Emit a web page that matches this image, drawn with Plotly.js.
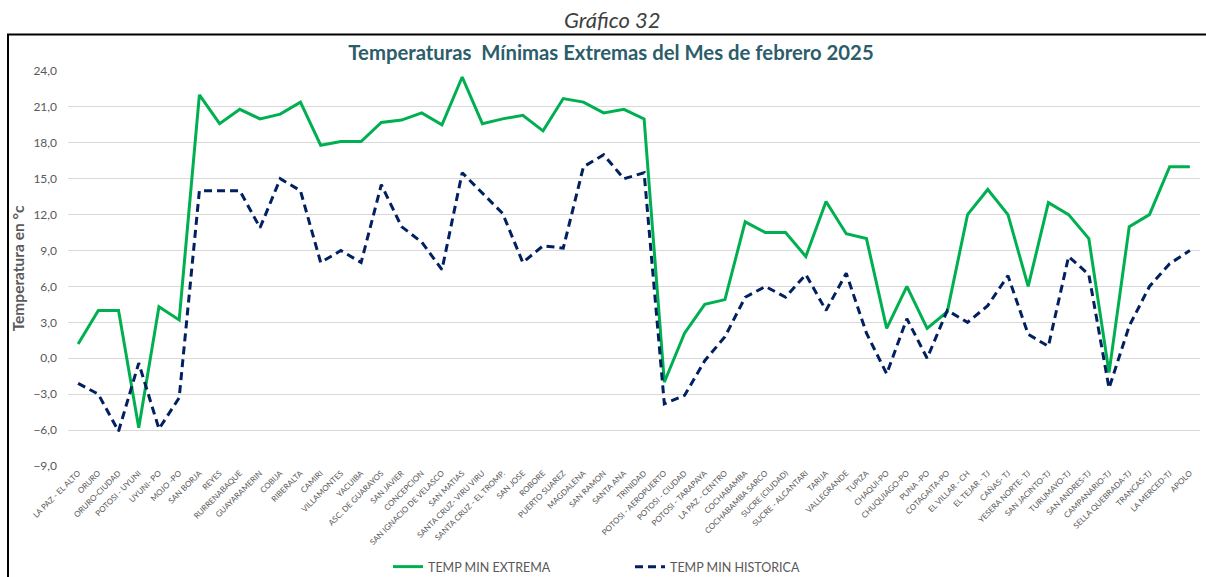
<!DOCTYPE html>
<html>
<head>
<meta charset="utf-8">
<script src="https://cdn.plot.ly/plotly-3.0.1.min.js"></script>
<style>html,body{margin:0;padding:0;background:#fff;}#chart{width:1206px;height:577px;}</style>
</head>
<body>
<div id="chart"></div>
<script>
const stations = [
  "LA PAZ - EL ALTO","ORURO","ORURO-CIUDAD","POTOSI - UYUNI","UYUNI- PO","MOJO -PO","SAN BORJA","REYES",
  "RURRENABAQUE","GUAYARAMERIN","COBIJA","RIBERALTA","CAMIRI","VILLAMONTES","YACUIBA","ASC. DE GUARAYOS",
  "SAN JAVIER","CONCEPCION","SAN IGNACIO DE VELASCO","SAN MATIAS","SANTA CRUZ- VIRU VIRU","SANTA CRUZ - EL TROMP.",
  "SAN JOSE","ROBORE","PUERTO SUAREZ","MAGDALENA","SAN RAMON","SANTA ANA","TRINIDAD","POTOSI - AEROPUERTO",
  "POTOSI - CIUDAD","POTOSI - TARAPAYA","LA PAZ - CENTRO","COCHABAMBA","COCHABAMBA SARCO","SUCRE (CIUDAD)",
  "SUCRE - ALCANTARI","TARIJA","VALLEGRANDE","TUPIZA","CHAQUI-PO","CHUQUIAGO-PO","PUNA -PO","COTAGAITA-PO",
  "EL VILLAR - CH","EL TEJAR - TJ","CAÑAS- TJ","YESERA NORTE- TJ","SAN JACINTO-TJ","TURUMAYO-TJ","SAN ANDRES-TJ",
  "CAMPANARIO-TJ","SELLA QUEBRADA-TJ","TRANCAS-TJ","LA MERCED-TJ","APOLO"
];
const tempMinExtrema = [
  1.2, 4.0, 4.0, -5.8, 4.3, 3.2, 22.0, 19.6,
  20.8, 20.0, 20.4, 21.4, 17.8, 18.1, 18.1, 19.7,
  19.9, 20.5, 19.5, 23.5, 19.6, 20.0,
  20.3, 19.0, 21.7, 21.4, 20.5, 20.8, 20.0, -2.0,
  2.1, 4.5, 4.9, 11.4, 10.5, 10.5,
  8.5, 13.1, 10.4, 10.0, 2.5, 6.0, 2.5, 3.9,
  12.0, 14.1, 12.0, 6.0, 13.0, 12.0, 10.0,
  -1.2, 11.0, 12.0, 16.0, 16.0
];
const tempMinHistorica = [
  -2.1, -3.0, -6.1, -0.4, -5.9, -3.3, 14.0, 14.0,
  14.0, 10.9, 15.0, 14.0, 8.0, 9.0, 8.0, 14.5,
  11.0, 9.7, 7.4, 15.5, 13.8, 12.1,
  8.0, 9.4, 9.2, 16.0, 17.0, 15.0, 15.5, -3.8,
  -3.1, -0.2, 1.8, 5.1, 6.0, 5.1,
  7.0, 4.0, 7.1, 2.1, -1.3, 3.3, 0.0, 4.0,
  3.0, 4.4, 6.9, 2.0, 1.0, 8.5, 7.0,
  -2.5, 2.7, 6.0, 7.9, 9.0
];
const yTicks = [-9, -6, -3, 0, 3, 6, 9, 12, 15, 18, 21, 24];
const seriesNames = ["TEMP MIN EXTREMA", "TEMP MIN HISTORICA"];

const FONT = "Lato, 'Open Sans', sans-serif";
const traces = [
  {x: stations, y: tempMinExtrema, name: seriesNames[0], type: "scatter", mode: "lines",
   line: {color: "#00B050", width: 3}},
  {x: stations, y: tempMinHistorica, name: seriesNames[1], type: "scatter", mode: "lines",
   line: {color: "#002060", width: 3, dash: "8px,5px"}}
];

const W = 1206, H = 577, L = 68, R = 6, T = 71, B = 111;
const pw = W - L - R, ph = H - T - B;
const px = v => (v - L) / pw;
const py = v => (H - B - v) / ph;

const layout = {
  width: W, height: H,
  margin: {l: L, r: R, t: T, b: B, autoexpand: false},
  paper_bgcolor: "#ffffff", plot_bgcolor: "#ffffff",
  separators: ",.",
  font: {family: FONT, color: "#595959"},
  title: {
    text: "<b>Temperaturas  Mínimas Extremas del Mes de febrero 2025</b>",
    font: {family: FONT, size: 20.3, color: "#2B5D6B"},
    x: 611 / W, xref: "container", xanchor: "center",
    y: 1 - 53 / H, yref: "container", yanchor: "middle"
  },
  xaxis: {
    type: "category", range: [-0.5, stations.length - 0.5],
    tickangle: -45, tickfont: {size: 8, color: "#595959", family: FONT},
    showgrid: false, zeroline: false, showline: false, ticks: "",
    automargin: false, fixedrange: true
  },
  yaxis: {
    range: [-9, 24], tickvals: yTicks, tickformat: ".1f",
    tickfont: {size: 12, color: "#595959", family: FONT},
    ticklabelstandoff: 10,
    showgrid: true, gridcolor: "#D9D9D9", gridwidth: 1,
    zeroline: false, showline: false, ticks: "",
    title: {text: "<b>Temperatura en °c</b>", font: {size: 15.5, color: "#595959", family: FONT}, standoff: 4},
    automargin: false, fixedrange: true
  },
  showlegend: true,
  legend: {
    orientation: "h", xref: "container", x: 388 / W, xanchor: "left",
    yref: "container", y: 1 - 567 / H, yanchor: "middle",
    font: {size: 12.5, color: "#595959", family: FONT},
    entrywidth: 197, entrywidthmode: "pixels", itemwidth: 30,
    bgcolor: "rgba(0,0,0,0)"
  },
  annotations: [{
    text: "<i>Gráfico 32</i>", xref: "paper", yref: "paper",
    x: px(612), y: py(20), xanchor: "center", yanchor: "middle", showarrow: false,
    font: {family: FONT, size: 22, color: "#404040"}
  }],
  shapes: [
    {type: "rect", xref: "paper", yref: "paper", x0: px(8), x1: px(1215), y0: py(590), y1: py(34.5),
     line: {color: "#000000", width: 2}, fillcolor: "rgba(0,0,0,0)", layer: "below"}
  ]
};

Plotly.newPlot("chart", traces, layout, {staticPlot: true, displayModeBar: false});
</script>
</body>
</html>
